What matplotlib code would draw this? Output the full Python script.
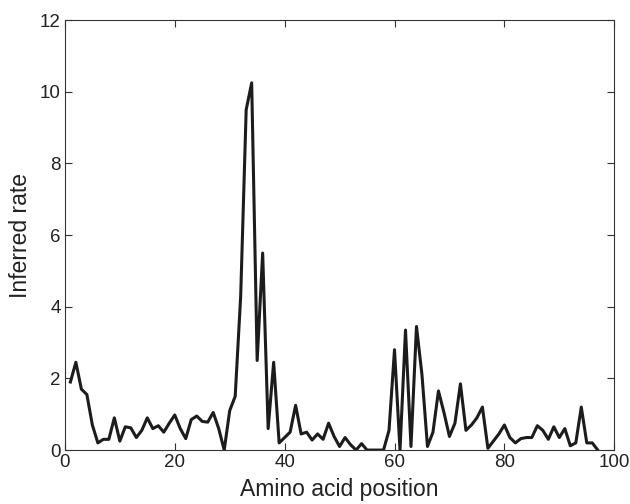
import numpy as np
import matplotlib.pyplot as plt

plt.rcParams['font.family'] = ['Liberation Sans', 'DejaVu Sans']

# позиции аминокислот
positions = np.arange(1, 98)
# оценённая скорость для каждой позиции
rates = [1.9, 2.45, 1.7, 1.55, 0.7, 0.2, 0.3, 0.3, 0.9, 0.25,
         0.65, 0.62, 0.35, 0.55, 0.9, 0.6, 0.68, 0.5, 0.75, 0.98,
         0.6, 0.32, 0.85, 0.95, 0.8, 0.78, 1.05, 0.6, 0.0, 1.1,
         1.5, 4.3, 9.5, 10.25, 2.5, 5.5, 0.6, 2.45, 0.2, 0.35,
         0.5, 1.25, 0.45, 0.5, 0.28, 0.45, 0.3, 0.75, 0.38, 0.1,
         0.35, 0.15, 0.0, 0.18, 0.0, 0.0, 0.0, 0.0, 0.55, 2.8,
         0.0, 3.35, 0.1, 3.45, 2.1, 0.1, 0.5, 1.65, 1.05, 0.38,
         0.75, 1.85, 0.55, 0.7, 0.9, 1.2, 0.05, 0.25, 0.45, 0.7,
         0.35, 0.2, 0.32, 0.35, 0.35, 0.68, 0.55, 0.3, 0.65, 0.35,
         0.6, 0.12, 0.2, 1.2, 0.2, 0.2, 0.0]

fig = plt.figure(figsize=(6.3, 5.04), dpi=100)
ax = fig.add_axes([0.103, 0.107, 0.872, 0.853])

ax.plot(positions, rates, color='#1c1c1c', linewidth=2.2)

ax.set_xlim(0, 100)
ax.set_ylim(0, 12)
ax.set_xticks(np.arange(0, 101, 20))
ax.set_yticks(np.arange(0, 13, 2))
ax.tick_params(direction='in', top=True, right=True, labelsize=13.5,
               length=5, width=0.8, colors='#333333', labelcolor='#222222',
               pad=3)
for s in ax.spines.values():
    s.set_linewidth(0.8)
    s.set_color('#333333')

ax.set_xlabel('Amino acid position', fontsize=16.5, color='#222222', labelpad=5)
ax.set_ylabel('Inferred rate', fontsize=16.5, color='#222222', labelpad=6)

fig.savefig('out.png', dpi=100)
